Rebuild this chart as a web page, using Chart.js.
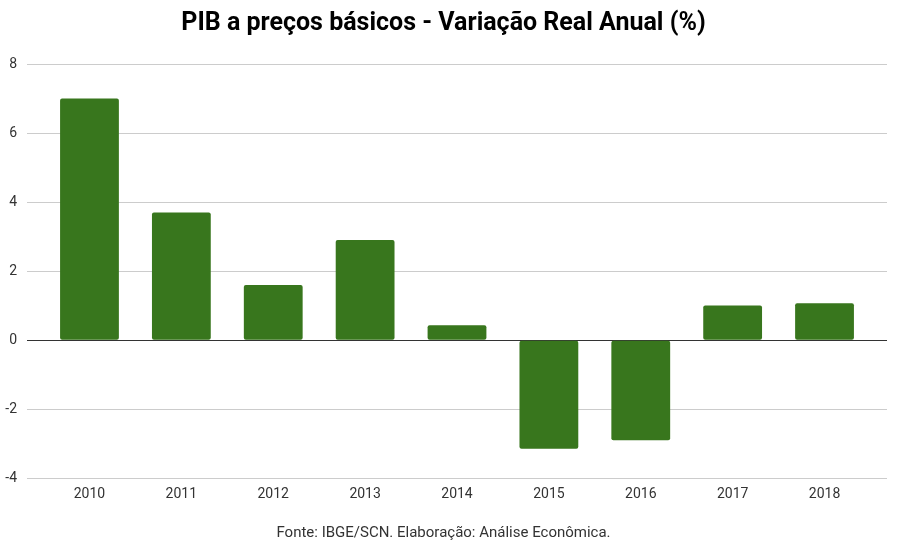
<!DOCTYPE html>
<html>
<head>
<meta charset="utf-8">
<script src="https://cdn.jsdelivr.net/npm/chart.js@4"></script>
<style>
html,body{margin:0;padding:0;background:#fff;}
#wrap{width:907px;height:549px;}
</style>
</head>
<body>
<div id="wrap"><canvas id="c" width="907" height="549"></canvas></div>
<script>
const years = ["2010","2011","2012","2013","2014","2015","2016","2017","2018"];
const pibVariation = [7.0, 3.7, 1.6, 2.9, 0.43, -3.15, -2.9, 1.0, 1.07];
const yTicks = [-4, -2, 0, 2, 4, 6, 8];
const chartTitle = "PIB a preços básicos - Variação Real Anual (%)";
const sourceNote = "Fonte: IBGE/SCN. Elaboração: Análise Econômica.";

const points = pibVariation.map((v, i) => ({ x: i, y: v }));

new Chart(document.getElementById('c'), {
  type: 'bar',
  data: {
    datasets: [{
      data: points,
      backgroundColor: '#38761d',
      borderRadius: 2,
      borderSkipped: 'middle',
      barPercentage: 0.64,
      categoryPercentage: 1.0
    }]
  },
  options: {
    responsive: false,
    animation: false,
    layout: { padding: { left: 0, right: 20, top: 0, bottom: 0 } },
    plugins: {
      legend: { display: false },
      tooltip: { enabled: false },
      title: {
        display: true,
        text: chartTitle,
        color: '#000',
        font: { family: 'Roboto', size: 25, weight: 'bold' },
        padding: { top: 9, bottom: 25 }
      },
      subtitle: {
        display: true,
        position: 'bottom',
        text: sourceNote,
        color: '#333',
        font: { family: 'Roboto', size: 15 },
        padding: { top: 13, bottom: 7 }
      }
    },
    scales: {
      x: {
        type: 'linear',
        offset: false,
        min: -0.68, max: 8.68,
        afterBuildTicks: (s) => { s.ticks = years.map((y, i) => ({ value: i })); },
        grid: { display: false, drawTicks: false, offset: false },
        border: { display: false },
        ticks: {
          color: '#333', font: { family: 'Roboto', size: 14 }, padding: 8,
          maxRotation: 0, autoSkip: false,
          callback: (v) => years[v]
        }
      },
      y: {
        min: -4, max: 8,
        afterBuildTicks: (s) => { s.ticks = yTicks.map(v => ({ value: v })); },
        afterFit: (s) => { s.width = 27; },
        border: { display: false },
        grid: {
          drawTicks: false,
          color: (ctx) => ctx.tick && ctx.tick.value === 0 ? '#333' : '#ccc',
          lineWidth: 1
        },
        ticks: { color: '#333', font: { family: 'Roboto', size: 14 }, padding: 10 }
      }
    }
  }
});
</script>
</body>
</html>
